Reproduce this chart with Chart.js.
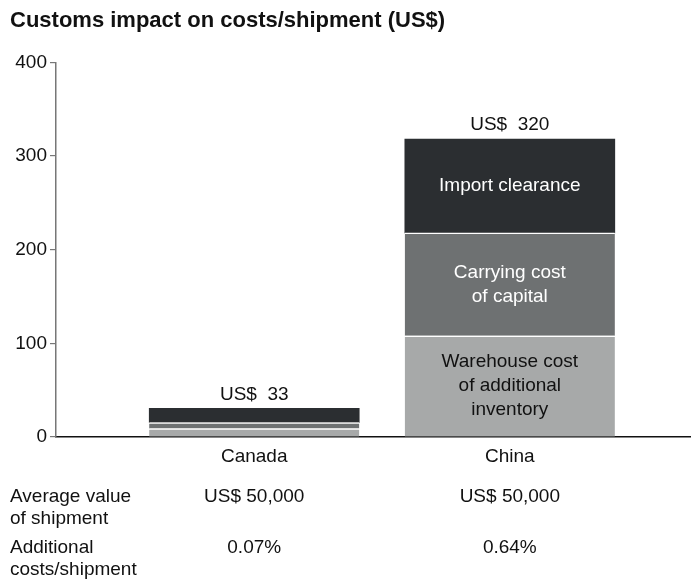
<!DOCTYPE html>
<html>
<head>
<meta charset="utf-8">
<script src="https://cdn.jsdelivr.net/npm/chart.js@4"></script>
<style>
  html, body { margin: 0; padding: 0; background: #fff; }
  #wrap { width: 694px; height: 580px; }
</style>
</head>
<body>
<div id="wrap"><canvas id="c" width="694" height="580"></canvas></div>
<script>
// ---- data ----
const categories = ['Canada', 'China'];
const categoryX = [1, 2];
const warehouseCost = [9, 108];
const carryingCost = [6.5, 110];
const importClearance = [15, 100];
const totalLabels = ['US$  33', 'US$  320'];
const yTicks = [0, 100, 200, 300, 400];
const segmentNames = [
  ['Warehouse cost', 'of additional', 'inventory'],
  ['Carrying cost', 'of capital'],
  ['Import clearance']
];
const rowLabels = [['Average value', 'of shipment'], ['Additional', 'costs/shipment']];
const avgShipmentValue = ['US$ 50,000', 'US$ 50,000'];
const additionalCosts = ['0.07%', '0.64%'];

const FONT = "'Liberation Sans', Arial, Helvetica, sans-serif";
const segColors = ['#a7a9a9', '#6e7172', '#2b2e31'];
const segTextColors = ['#111111', '#ffffff', '#ffffff'];

const toPoints = arr => categoryX.map((x, i) => ({ x: x, y: arr[i] }));

const labelsPlugin = {
  id: 'labelsPlugin',
  afterDatasetsDraw(chart) {
    const ctx = chart.ctx;
    const xs = chart.scales.x;
    ctx.save();
    ctx.font = '19px ' + FONT;
    ctx.textAlign = 'center';
    const ci = 1;
    chart.data.datasets.forEach((ds, di) => {
      const el = chart.getDatasetMeta(di).data[ci];
      const cy = (el.y + el.base) / 2;
      const lines = segmentNames[di];
      const lh = 24;
      ctx.fillStyle = segTextColors[di];
      ctx.textBaseline = 'middle';
      lines.forEach((t, li) => {
        ctx.fillText(t, el.x, cy + (li - (lines.length - 1) / 2) * lh);
      });
    });
    const lastMeta = chart.getDatasetMeta(chart.data.datasets.length - 1);
    ctx.fillStyle = '#111';
    ctx.textBaseline = 'middle';
    categoryX.forEach((x, i) => {
      const el = lastMeta.data[i];
      ctx.fillText(totalLabels[i], el.x, el.y - 14);
    });
    ctx.textAlign = 'left';
    rowLabels.forEach((lines, r) => {
      const y0 = r === 0 ? 497 : 548;
      lines.forEach((t, li) => ctx.fillText(t, 10, y0 + li * 22));
    });
    ctx.textAlign = 'center';
    categoryX.forEach((x, i) => {
      const px = xs.getPixelForValue(x);
      ctx.fillText(avgShipmentValue[i], px, 497);
      ctx.fillText(additionalCosts[i], px, 548);
    });
    ctx.restore();
  }
};

const mkDs = (label, arr, idx) => ({
  label: label,
  data: toPoints(arr),
  backgroundColor: segColors[idx],
  borderColor: '#ffffff',
  borderWidth: idx < 2 ? { top: 1.5, bottom: 0, left: 0, right: 0 } : 0,
  borderSkipped: false,
  barThickness: 210
});

new Chart(document.getElementById('c'), {
  type: 'bar',
  data: {
    datasets: [
      mkDs('Warehouse cost of additional inventory', warehouseCost, 0),
      mkDs('Carrying cost of capital', carryingCost, 1),
      mkDs('Import clearance', importClearance, 2)
    ]
  },
  options: {
    responsive: false,
    animation: false,
    devicePixelRatio: 1,
    layout: { padding: { left: 10, right: 4, top: 0, bottom: 0 } },
    plugins: {
      legend: { display: false },
      tooltip: { enabled: false },
      title: {
        display: true,
        text: 'Customs impact on costs/shipment (US$)',
        align: 'start',
        color: '#111',
        font: { family: FONT, size: 22, weight: 'bold' },
        padding: { top: 8, bottom: 28 }
      }
    },
    scales: {
      x: {
        type: 'linear',
        stacked: true,
        offset: false,
        min: 0.2244,
        max: 2.705,
        afterBuildTicks: s => { s.ticks = categoryX.map(v => ({ value: v })); },
        afterFit: s => { s.height = 143; },
        grid: { display: false, drawTicks: false, offset: false },
        border: { display: true, color: '#111', width: 1.5 },
        ticks: {
          padding: 8,
          color: '#111',
          font: { family: FONT, size: 19 },
          callback: v => categories[categoryX.indexOf(v)] || ''
        }
      },
      y: {
        stacked: true,
        min: 0,
        max: 400,
        afterBuildTicks: s => { s.ticks = yTicks.map(v => ({ value: v })); },
        afterFit: s => { s.width = 46; },
        grid: { display: true, drawOnChartArea: false, drawTicks: true, tickLength: 6, color: '#777', lineWidth: 1.2 },
        border: { display: true, color: '#777', width: 1.5 },
        ticks: {
          padding: 3,
          color: '#111',
          font: { family: FONT, size: 19 }
        }
      }
    }
  },
  plugins: [labelsPlugin]
});
</script>
</body>
</html>
